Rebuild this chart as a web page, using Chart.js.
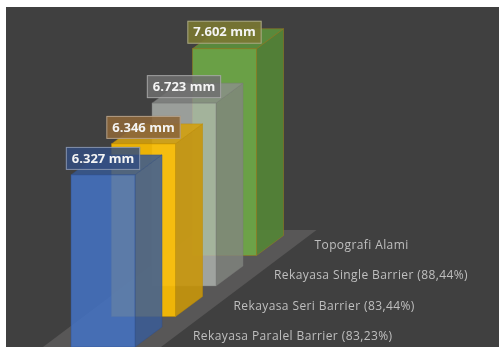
<!DOCTYPE html>
<html>
<head>
<meta charset="utf-8">
<script src="https://cdn.jsdelivr.net/npm/chart.js@4.4.0/dist/chart.umd.min.js"></script>
<style>
html,body{margin:0;padding:0;background:#ffffff;}
#wrap{width:499px;height:347px;}
</style>
</head>
<body>
<div id="wrap"><canvas id="c" width="499" height="347"></canvas></div>
<script>
// ---- data ----
const categories = [
  "Rekayasa Paralel Barrier (83,23%)",
  "Rekayasa Seri Barrier (83,44%)",
  "Rekayasa Single Barrier (88,44%)",
  "Topografi Alami"
];
const values = [6.327, 6.346, 6.723, 7.602];
const unit = "mm";

// ---- styles ----
const frontColors = ["rgba(68,114,196,0.86)", "rgba(255,192,0,0.9)", "rgba(180,184,180,0.78)", "rgba(112,173,71,0.88)"];
const sideColors  = ["rgba(58,92,150,0.86)",  "rgba(200,150,10,0.9)", "rgba(130,134,128,0.8)", "rgba(84,134,54,0.9)"];
const topColors   = ["rgba(55,88,145,0.86)",  "rgba(210,160,15,0.9)", "rgba(140,142,140,0.8)", "rgba(92,145,60,0.9)"];
const edgeColors  = ["rgba(50,80,140,0.6)", "rgba(190,140,0,0.6)", "rgba(120,120,120,0.5)", "rgba(150,120,30,0.7)"];
const labelFills  = ["rgba(52,78,128,0.85)", "rgba(140,102,58,0.9)", "rgba(110,110,110,0.85)", "rgba(122,120,50,0.9)"];

const bg3d = {
  id: 'bg3d',
  beforeDraw(chart) {
    const ctx = chart.ctx;
    ctx.save();
    ctx.fillStyle = '#ffffff';
    ctx.fillRect(0, 0, chart.width, chart.height);
    ctx.fillStyle = '#404040';
    ctx.fillRect(6, 7, chart.width - 6, chart.height - 7);
    ctx.restore();
  },
  afterDatasetsDraw(chart) {
    const ctx = chart.ctx;
    const meta = chart.getDatasetMeta(0);
    const els = meta.data;
    const ys = chart.scales.y;
    const step = els[1].x - els[0].x;       // category spacing
    const dyStep = -step * 0.753;           // projected depth rise per row
    const barW = step * 1.58;
    const dX = step * 0.667, dY = dyStep * 0.656;   // bar depth vector
    const base0 = ys.getPixelForValue(0);
    const cxAt = i => els[0].x + i * step;
    const baseAt = i => base0 + i * dyStep;

    // floor
    const n = els.length;
    const iF = -1, iB = n - 1 + 0.84, uL = -barW/2 - 28, uR = barW/2 + 26;
    ctx.save();
    ctx.fillStyle = '#585757';
    ctx.beginPath();
    ctx.moveTo(cxAt(iF) + uL, baseAt(iF));
    ctx.lineTo(cxAt(iB) + uL, baseAt(iB));
    ctx.lineTo(cxAt(iB) + uR, baseAt(iB));
    ctx.lineTo(cxAt(iF) + uR, baseAt(iF));
    ctx.closePath();
    ctx.fill();

    // category labels
    ctx.font = '12px "Open Sans", sans-serif';
    ctx.letterSpacing = '0.4px';
    ctx.fillStyle = '#bfbfbf';
    ctx.textAlign = 'left';
    ctx.textBaseline = 'middle';
    for (let i = 0; i < n; i++) {
      ctx.fillText(chart.data.labels[i], cxAt(i) + 90, baseAt(i) - 10);
    }
    ctx.letterSpacing = '0px';

    // bars back to front
    for (let i = n - 1; i >= 0; i--) {
      const el = els[i];
      const shift = i * dyStep;
      const x0 = el.x - barW/2, x1 = el.x + barW/2;
      const top = el.y + shift, bot = el.base + shift;
      // side
      ctx.fillStyle = sideColors[i];
      ctx.beginPath();
      ctx.moveTo(x1, top); ctx.lineTo(x1 + dX, top + dY);
      ctx.lineTo(x1 + dX, bot + dY); ctx.lineTo(x1, bot); ctx.closePath();
      ctx.fill();
      ctx.strokeStyle = edgeColors[i]; ctx.lineWidth = 0.8; ctx.stroke();
      // top
      ctx.fillStyle = topColors[i];
      ctx.beginPath();
      ctx.moveTo(x0, top); ctx.lineTo(x0 + dX, top + dY);
      ctx.lineTo(x1 + dX, top + dY); ctx.lineTo(x1, top); ctx.closePath();
      ctx.fill(); ctx.stroke();
      // front
      ctx.fillStyle = frontColors[i];
      ctx.fillRect(x0, top, barW, bot - top);
      ctx.strokeRect(x0, top, barW, bot - top);

      // data label
      const txt = chart.data.datasets[0].data[i].toFixed(3) + ' ' + unit;
      ctx.font = 'bold 13px "Open Sans", sans-serif';
      const tw = ctx.measureText(txt).width;
      const bw = tw + 12, bh = 23;
      const bx = el.x - bw/2, by = top - 5 - bh;
      ctx.fillStyle = labelFills[i];
      ctx.fillRect(bx, by, bw, bh);
      ctx.strokeStyle = 'rgba(230,230,230,0.45)';
      ctx.lineWidth = 1;
      ctx.strokeRect(bx + 0.5, by + 0.5, bw - 1, bh - 1);
      ctx.fillStyle = '#f4f4f4';
      ctx.textAlign = 'center';
      ctx.textBaseline = 'middle';
      ctx.fillText(txt, el.x, by + bh/2 + 0.5);
    }
    ctx.restore();
  }
};

new Chart(document.getElementById('c'), {
  type: 'bar',
  data: {
    labels: categories,
    datasets: [{
      data: values,
      backgroundColor: 'rgba(0,0,0,0)',
      borderWidth: 0,
      categoryPercentage: 1,
      barPercentage: 1
    }]
  },
  options: {
    responsive: false,
    animation: false,
    events: [],
    layout: { padding: { left: 82.75, right: 254.25, top: 129.4, bottom: 0 } },
    plugins: { legend: { display: false }, tooltip: { enabled: false } },
    scales: {
      x: { display: false, offset: true },
      y: { display: false, min: 0, max: 8 }
    }
  },
  plugins: [bg3d]
});
</script>
</body>
</html>
